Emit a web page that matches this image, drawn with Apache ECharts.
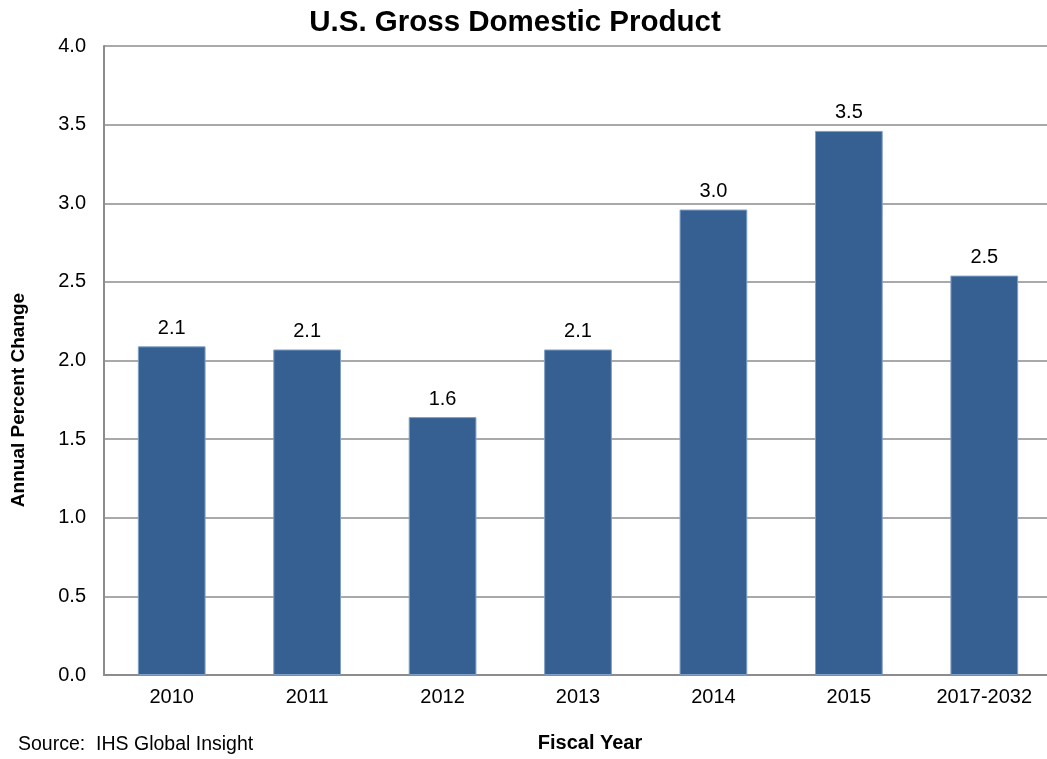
<!DOCTYPE html>
<html>
<head>
<meta charset="utf-8">
<script src="https://cdn.jsdelivr.net/npm/echarts@6/dist/echarts.min.js"></script>
<style>
  html, body { margin: 0; padding: 0; background: #fff; }
  #main { width: 1047px; height: 759px; }
</style>
</head>
<body>
<div id="main"></div>
<script>
var categories = ['2010', '2011', '2012', '2013', '2014', '2015', '2017-2032'];
var gdpChange = [2.09, 2.07, 1.64, 2.07, 2.96, 3.46, 2.54];
var yTicks = [0, 0.5, 1, 1.5, 2, 2.5, 3, 3.5, 4];

var font = '"Liberation Sans", Arial, sans-serif';
var myChart = echarts.init(document.getElementById('main'));

myChart.setOption({
    animation: false,
    title: {
        text: 'U.S. Gross Domestic Product',
        left: 510,
        textAlign: 'center',
        top: 3,
        textStyle: { fontFamily: font, fontSize: 29.5, fontWeight: 'bold', color: '#000' }
    },
    grid: { left: 104, top: 46, width: 948, height: 629, outerBoundsMode: 'none' },
    xAxis: {
        type: 'category',
        data: categories,
        axisLine: { lineStyle: { color: '#8c8c8c', width: 2 } },
        axisTick: { show: false },
        axisLabel: { color: '#000', fontFamily: font, fontSize: 20, margin: 12 }
    },
    yAxis: {
        type: 'value',
        min: yTicks[0],
        max: yTicks[yTicks.length - 1],
        interval: 0.5,
        axisLine: { show: true, lineStyle: { color: '#8c8c8c', width: 2 } },
        axisTick: { show: false },
        splitLine: { lineStyle: { color: '#8c8c8c', width: 1.5 } },
        axisLabel: {
            color: '#000', fontFamily: font, fontSize: 20, margin: 18,
            formatter: function (v) { return v.toFixed(1); }
        }
    },
    series: [{
        type: 'bar',
        data: gdpChange,
        barWidth: '50%',
        itemStyle: { color: '#366092', borderColor: '#7f9fc6', borderWidth: 1 },
        label: {
            show: true,
            position: 'top',
            distance: 8,
            color: '#000',
            fontFamily: font,
            fontSize: 20,
            formatter: function (p) { return p.value.toFixed(1); }
        }
    }],
    graphic: [
        {
            type: 'text', x: 19, y: 400, rotation: Math.PI / 2,
            style: { text: 'Annual Percent Change', fontFamily: font, fontSize: 19, fontWeight: 'bold', fill: '#000', align: 'center', verticalAlign: 'middle' }
        },
        {
            type: 'text', x: 590, y: 743,
            style: { text: 'Fiscal Year', fontFamily: font, fontSize: 20, fontWeight: 'bold', fill: '#000', align: 'center', verticalAlign: 'middle' }
        },
        {
            type: 'text', x: 18, y: 745,
            style: { text: 'Source:  IHS Global Insight', fontFamily: font, fontSize: 19.5, fill: '#000', align: 'left', verticalAlign: 'middle' }
        }
    ]
});
</script>
</body>
</html>
